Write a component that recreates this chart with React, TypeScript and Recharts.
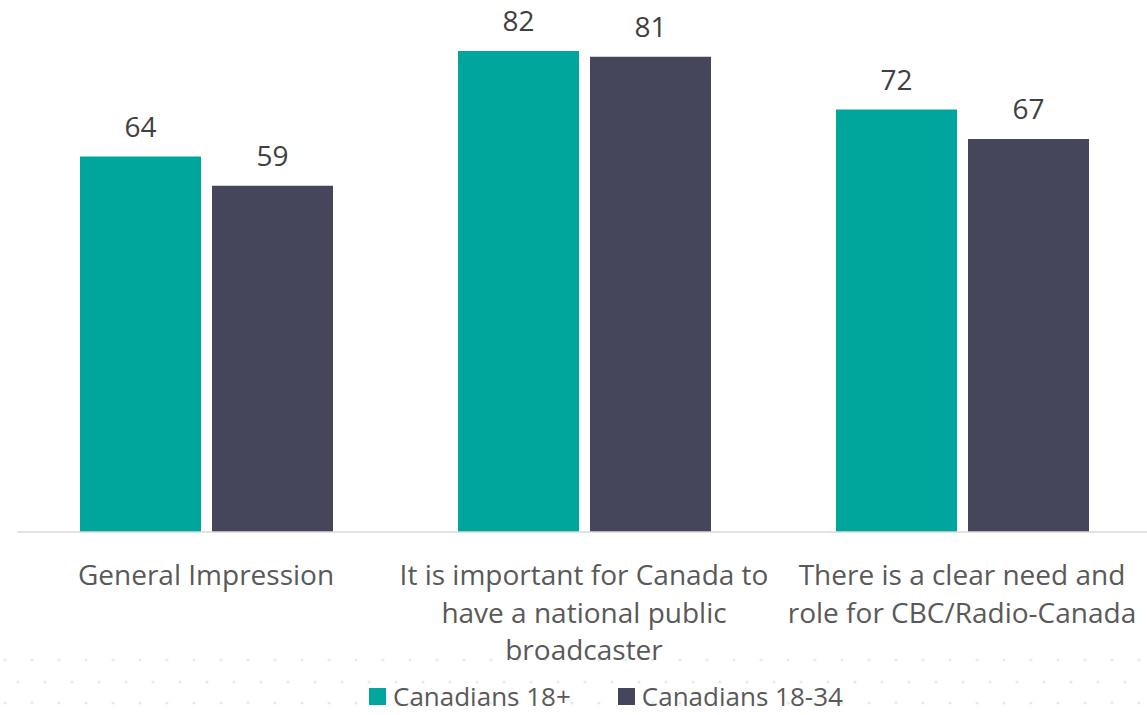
import React from 'react';
import { BarChart, Bar, XAxis, YAxis, LabelList } from 'recharts';

// values
const categories = ['General Impression', 'National broadcaster', 'Clear need and role'];
const tickLines = [
  ['General Impression'],
  ['It is important for Canada to', 'have a national public', 'broadcaster'],
  ['There is a clear need and', 'role for CBC/Radio-Canada'],
];
const adults = [64, 82, 72];
const youngAdults = [59, 81, 67];
const seriesNames = ['Canadians 18+', 'Canadians 18-34'];

const data = categories.map((name, i) => ({
  name,
  [seriesNames[0]]: adults[i],
  [seriesNames[1]]: youngAdults[i],
}));

const FONT = '"Open Sans", sans-serif';
const TEAL = '#00A59C';
const SLATE = '#45465C';
const colors = [TEAL, SLATE];

const CategoryTick = (props: any) => {
  const { x, y, payload } = props;
  const lines = tickLines[payload.index] || [payload.value];
  return (
    <g transform={`translate(${x},${y})`}>
      {lines.map((line, i) => (
        <text
          key={i}
          x={0}
          y={45 + i * 37.5}
          textAnchor="middle"
          fill="#595959"
          fontSize={28}
          fontFamily={FONT}
        >
          {line}
        </text>
      ))}
    </g>
  );
};

// legend drawn as plain html under the plot
const LegendBox = () => (
  <div
    style={{
      position: 'absolute',
      left: 369,
      top: 683,
      display: 'flex',
      fontFamily: FONT,
      fontSize: 26,
      lineHeight: '26px',
      color: '#595959',
      whiteSpace: 'nowrap',
    }}
  >
    {seriesNames.map((label, i) => (
      <span key={label} style={{ display: 'flex', alignItems: 'center', marginRight: i === 0 ? 47 : 0 }}>
        <span style={{ width: 17, height: 17, background: colors[i], marginRight: 7, display: 'inline-block' }} />
        {label}
      </span>
    ))}
  </div>
);

// faint dotted backdrop at the bottom of the slide
const Dots = () => {
  const rows = [660, 682, 703];
  const cols = Array.from({ length: 44 }, (_, i) => i);
  return (
    <svg width={1147} height={715} style={{ position: 'absolute', left: 0, top: 0 }}>
      {rows.map((ry, r) =>
        cols.map((c) => (
          <circle key={`${r}-${c}`} cx={5 + c * 27 + (r % 2) * 13} cy={ry} r={1.6} fill="#dcefed" />
        ))
      )}
    </svg>
  );
};

export default function App() {
  return (
    <div style={{ position: 'absolute', left: 0, top: 0, width: 1147, height: 715, overflow: 'hidden', background: '#fff' }}>
      <Dots />
      <div style={{ position: 'absolute', left: 0, top: 0 }}>
        <BarChart
          width={1151}
          height={715}
          data={data}
          margin={{ top: 4, right: 0, left: 17, bottom: 0 }}
          barSize={121}
          barGap={11}
        >
          <XAxis
            dataKey="name"
            tick={<CategoryTick />}
            tickLine={false}
            axisLine={{ stroke: '#d9d9d9', strokeWidth: 1.5 }}
            interval={0}
            height={183}
          />
          <YAxis hide domain={[0, 90]} />
          <Bar dataKey={seriesNames[0]} fill={TEAL} isAnimationActive={false}>
            <LabelList dataKey={seriesNames[0]} position="top" offset={20} fill="#404040" fontSize={28} fontFamily={FONT} />
          </Bar>
          <Bar dataKey={seriesNames[1]} fill={SLATE} isAnimationActive={false}>
            <LabelList dataKey={seriesNames[1]} position="top" offset={20} fill="#404040" fontSize={28} fontFamily={FONT} />
          </Bar>
        </BarChart>
      </div>
      <LegendBox />
    </div>
  );
}
